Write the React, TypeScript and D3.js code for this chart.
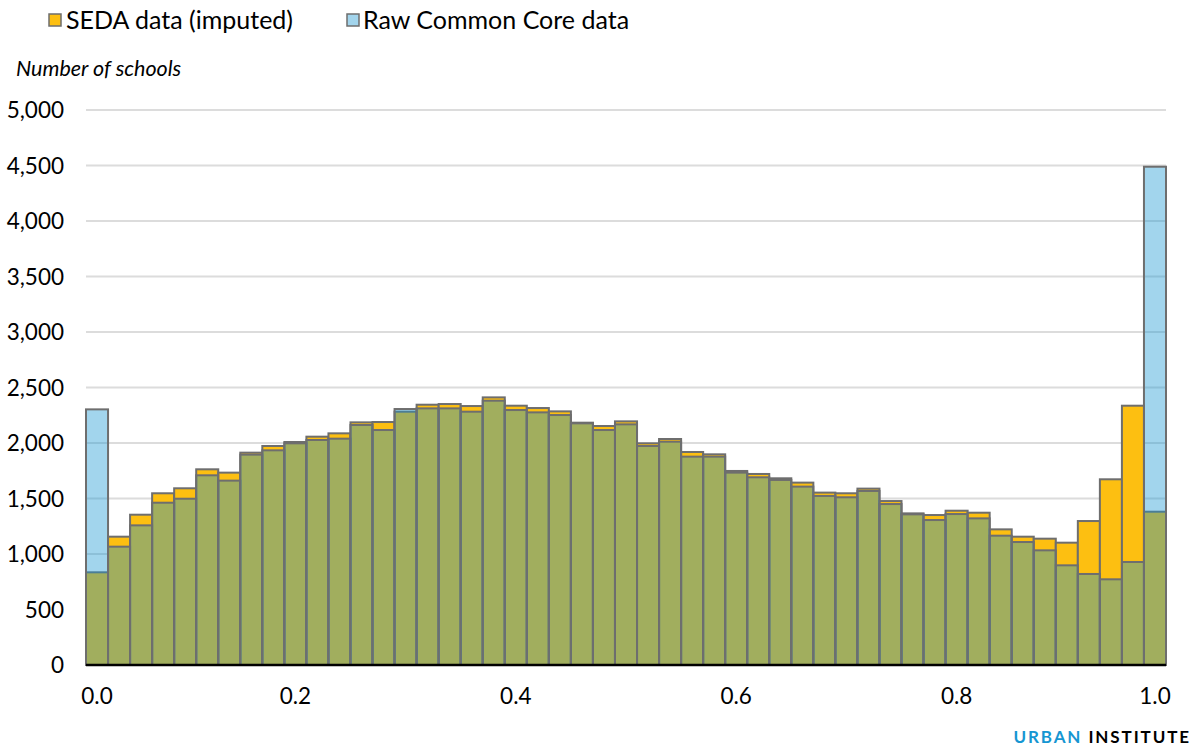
import React from "react";
import * as d3 from "d3";

const seda = [835, 1156, 1354, 1547, 1592, 1763, 1733, 1913, 1973, 2009, 2057, 2087, 2186, 2189, 2282, 2345, 2351, 2333, 2411, 2336, 2315, 2285, 2183, 2153, 2195, 1997, 2036, 1919, 1898, 1748, 1721, 1682, 1643, 1553, 1547, 1589, 1477, 1366, 1351, 1390, 1372, 1222, 1156, 1138, 1102, 1297, 1673, 2336, 1381];
const raw = [2303, 1066, 1258, 1462, 1498, 1709, 1661, 1895, 1934, 1997, 2027, 2039, 2162, 2117, 2306, 2312, 2312, 2282, 2381, 2297, 2276, 2252, 2177, 2117, 2168, 1973, 2012, 1877, 1877, 1733, 1691, 1667, 1607, 1523, 1511, 1568, 1450, 1357, 1306, 1360, 1321, 1165, 1108, 1033, 898, 820, 772, 928, 4489];
const bins = seda.map((_, i) => i);
const xTickIndex = [0, 9, 19, 29, 39, 48];
const xTickLabels = ["0.0", "0.2", "0.4", "0.6", "0.8", "1.0"];
const yTicks = [0, 500, 1000, 1500, 2000, 2500, 3000, 3500, 4000, 4500, 5000];
const seriesNames = ["SEDA data (imputed)", "Raw Common Core data"];

const W = 1197, H = 746;
const left = 86, right = 1166, top = 110, bottom = 665;
const FONT = "Lato, 'Open Sans', sans-serif";

export default function App() {
  const x = d3.scaleBand<number>().domain(bins).range([left, right]).padding(0);
  const y = d3.scaleLinear().domain([0, 5000]).range([bottom, top]);
  const fmt = d3.format(",");
  const bw = x.bandwidth();
  return (
    <svg width={W} height={H} style={{ position: "absolute", left: 0, top: 0, background: "#fff" }} fontFamily={FONT}>
      {/* legend */}
      <rect x={49} y={14} width={12} height={12} fill="#fdbf11" stroke="#6e6e6e" strokeWidth={1.5} />
      <text x={66} y={29} fontSize={25} fill="#000">{seriesNames[0]}</text>
      <rect x={347} y={14} width={12} height={12} fill="#a2d4ec" stroke="#6e6e6e" strokeWidth={1.5} />
      <text x={363} y={29} fontSize={25} fill="#000">{seriesNames[1]}</text>
      <text x={16} y={76} fontSize={21.5} fontStyle="italic" fill="#000">Number of schools</text>
      {/* grid */}
      {yTicks.map((t) => (
        <g key={t}>
          {t > 0 && <line x1={left} x2={right} y1={y(t)} y2={y(t)} stroke="#dcdcdc" strokeWidth={2} />}
          <text x={64} y={y(t)} dy="0.36em" textAnchor="end" fontSize={22.5} fill="#000">{fmt(t)}</text>
        </g>
      ))}
      {/* SEDA bars */}
      {bins.map((i) => (
        <rect key={"s" + i} x={x(i)!} y={y(seda[i])} width={bw} height={bottom - y(seda[i])}
          fill="#fdbf11" stroke="#6e6e6e" strokeWidth={2} />
      ))}
      {/* Raw bars, translucent */}
      {bins.map((i) => (
        <rect key={"r" + i} x={x(i)!} y={y(raw[i])} width={bw} height={bottom - y(raw[i])}
          fill="#1696d2" fillOpacity={0.4} stroke="#6e6e6e" strokeWidth={2} />
      ))}
      <line x1={left} x2={right} y1={bottom} y2={bottom} stroke="#000" strokeWidth={2.5} />
      {xTickIndex.map((idx, k) => (
        <text key={k} x={x(idx)! + bw / 2} y={704} textAnchor="middle" fontSize={22.5} fill="#000">{xTickLabels[k]}</text>
      ))}
      <text x={1191} y={743} textAnchor="end" fontSize={17} fontWeight="bold" letterSpacing={1.9}>
        <tspan fill="#1696d2">URBAN </tspan>
        <tspan fill="#000">INSTITUTE</tspan>
      </text>
    </svg>
  );
}
